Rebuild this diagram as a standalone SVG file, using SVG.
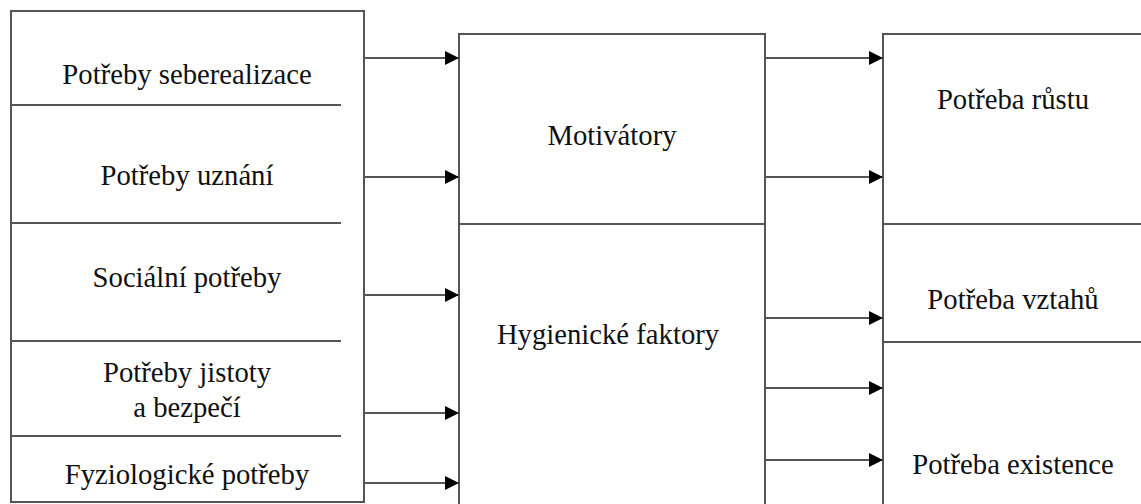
<svg xmlns="http://www.w3.org/2000/svg" width="1141" height="504" viewBox="0 0 1141 504">
<defs>
<marker id="ah" markerWidth="14" markerHeight="14" refX="14" refY="7" orient="auto" markerUnits="userSpaceOnUse">
<path d="M0,0 L14,7 L0,14 Z" fill="#000"/>
</marker>
<style>
.box{fill:none;stroke:#555;stroke-width:2}
.ln{stroke:#555;stroke-width:2;fill:none}
.arr{stroke:#555;stroke-width:2;fill:none;marker-end:url(#ah)}
text{font-family:"Liberation Serif","Times New Roman",serif;font-size:28.7px;fill:#111;text-anchor:middle}
</style>
</defs>
<rect width="1141" height="504" fill="#fff"/>
<g id="maslow">
<path class="box" d="M11,502 L11,11 L364,11 L364,502 Z"/>
<line class="ln" x1="11" y1="105" x2="341" y2="105"/>
<line class="ln" x1="11" y1="223" x2="341" y2="223"/>
<line class="ln" x1="11" y1="341" x2="341" y2="341"/>
<line class="ln" x1="11" y1="436" x2="341" y2="436"/>
<text x="187" y="84">Potřeby seberealizace</text>
<text x="187" y="185">Potřeby uznání</text>
<text x="187" y="287">Sociální potřeby</text>
<text x="187" y="382">Potřeby jistoty</text>
<text x="187" y="417">a bezpečí</text>
<text x="187" y="484">Fyziologické potřeby</text>
</g>
<g id="herzberg">
<path class="ln" d="M459,504 L459,34 L765,34 L765,504"/>
<line class="ln" x1="459" y1="224" x2="765" y2="224"/>
<text x="612" y="145">Motivátory</text>
<text x="608" y="344">Hygienické faktory</text>
</g>
<g id="alderfer">
<path class="ln" d="M883,504 L883,34 L1141,34"/>
<line class="ln" x1="883" y1="224" x2="1141" y2="224"/>
<line class="ln" x1="883" y1="342" x2="1141" y2="342"/>
<text x="1013" y="109">Potřeba růstu</text>
<text x="1013" y="309">Potřeba vztahů</text>
<text x="1013" y="474">Potřeba existence</text>
</g>
<g id="connectors">
<line class="arr" x1="364" y1="58" x2="459" y2="58"/>
<line class="arr" x1="364" y1="177" x2="459" y2="177"/>
<line class="arr" x1="364" y1="295" x2="459" y2="295"/>
<line class="arr" x1="364" y1="413" x2="459" y2="413"/>
<line class="arr" x1="364" y1="483" x2="459" y2="483"/>
<line class="arr" x1="765" y1="58" x2="883" y2="58"/>
<line class="arr" x1="765" y1="177" x2="883" y2="177"/>
<line class="arr" x1="765" y1="318" x2="883" y2="318"/>
<line class="arr" x1="765" y1="388" x2="883" y2="388"/>
<line class="arr" x1="765" y1="460" x2="883" y2="460"/>
</g>
</svg>
